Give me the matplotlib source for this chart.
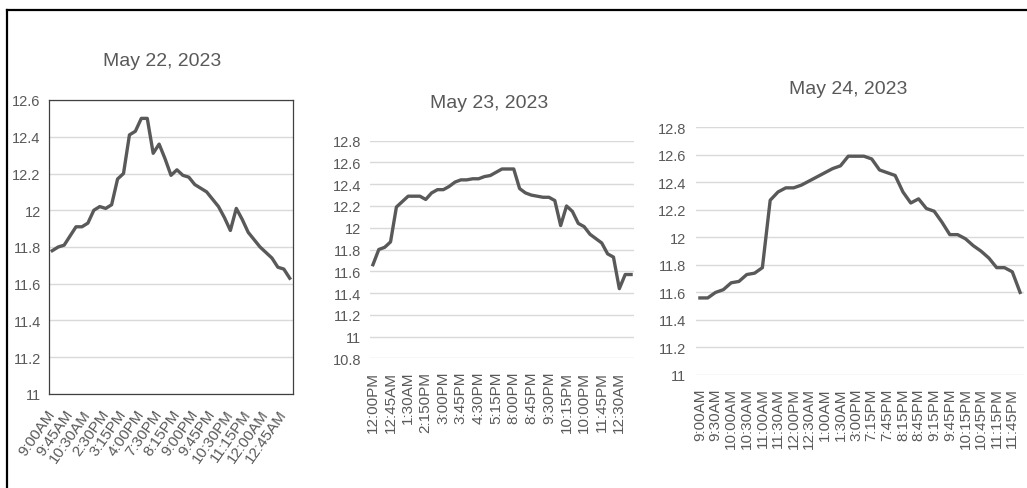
import numpy as np
import matplotlib

matplotlib.use("agg")
import matplotlib.pyplot as plt
from matplotlib.lines import Line2D

plt.rcParams["font.family"] = ["Liberation Sans", "DejaVu Sans"]

# May 22 - 15 min readings, label every 3rd point
may22_vals = [11.78, 11.80, 11.81, 11.86, 11.91, 11.91, 11.93, 12.00, 12.02, 12.01,
              12.03, 12.17, 12.20, 12.41, 12.43, 12.50, 12.50, 12.31, 12.36, 12.28,
              12.19, 12.22, 12.19, 12.18, 12.14, 12.12, 12.10, 12.06, 12.02, 11.96,
              11.89, 12.01, 11.95, 11.88, 11.84, 11.80, 11.77, 11.74, 11.69, 11.68,
              11.63]
may22_labels = ["9:00AM", "9:45AM", "10:30AM", "2:30PM", "3:15PM", "4:00PM", "7:30PM",
                "8:15PM", "9:00PM", "9:45PM", "10:30PM", "11:15PM", "12:00AM", "12:45AM"]

# May 23
may23_vals = [11.66, 11.80, 11.82, 11.87, 12.19, 12.24, 12.29, 12.29, 12.29, 12.26,
              12.32, 12.35, 12.35, 12.38, 12.42, 12.44, 12.44, 12.45, 12.45, 12.47,
              12.48, 12.51, 12.54, 12.54, 12.54, 12.36, 12.32, 12.30, 12.29, 12.28,
              12.28, 12.25, 12.02, 12.20, 12.15, 12.04, 12.01, 11.94, 11.90, 11.86,
              11.76, 11.73, 11.44, 11.57, 11.57]
may23_labels = ["12:00PM", "12:45AM", "1:30AM", "2:150PM", "3:00PM", "3:45PM", "4:30PM",
                "5:15PM", "8:00PM", "8:45PM", "9:30PM", "10:15PM", "10:00PM", "11:45PM",
                "12:30AM"]

# May 24 - label every 2nd point
may24_vals = [11.56, 11.56, 11.60, 11.62, 11.67, 11.68, 11.73, 11.74, 11.78, 12.27,
              12.33, 12.36, 12.36, 12.38, 12.41, 12.44, 12.47, 12.50, 12.52, 12.59,
              12.59, 12.59, 12.57, 12.49, 12.47, 12.45, 12.33, 12.25, 12.28, 12.21,
              12.19, 12.11, 12.02, 12.02, 11.99, 11.94, 11.90, 11.85, 11.78, 11.78,
              11.75, 11.60]
may24_labels = ["9:00AM", "9:30AM", "10:00AM", "10:30AM", "11:00AM", "11:30AM", "12:00PM",
                "12:30AM", "1:00AM", "1:30AM", "3:00PM", "7:15PM", "7:45PM", "8:15PM",
                "8:45PM", "9:15PM", "9:45PM", "10:15PM", "10:45PM", "11:15PM", "11:45PM"]

LINE = "#595959"
GRID = "#d9d9d9"
TXT = "#595959"

W, H = 1027, 489
fig = plt.figure(figsize=(W / 100, H / 100), dpi=100)
fig.patch.set_facecolor("white")


def px_axes(x0, y0, x1, y1):
    # pixel box (top-left origin) -> figure axes
    return fig.add_axes([x0 / W, 1 - y1 / H, (x1 - x0) / W, (y1 - y0) / H])


def draw_chart(ax, vals, labels, step, ymin, ymax, title, title_xy, rot, frame, ypad):
    n = len(vals)
    x = np.arange(n)
    ax.plot(x, vals, color=LINE, lw=2.4, solid_joinstyle="round", zorder=3)
    ax.set_xlim(-0.5, n - 0.5)
    ax.set_ylim(ymin, ymax)
    yt = np.round(np.arange(ymin, ymax + 0.001, 0.2), 1)
    ax.set_yticks(yt)
    ax.set_yticklabels([f"{v:g}" for v in yt], fontsize=10.5, color=TXT)
    ax.grid(axis="y", color=GRID, lw=1.0)
    ax.set_axisbelow(True)
    ax.tick_params(axis="both", length=0)
    ax.tick_params(axis="y", pad=ypad)
    ax.set_xticks(np.arange(0, n, step)[: len(labels)])
    if rot:
        ax.set_xticklabels(labels, rotation=rot, ha="right", va="center",
                           rotation_mode="anchor", fontsize=11, color=TXT)
        ax.tick_params(axis="x", pad=12)
    else:
        ax.set_xticklabels(labels, rotation=90, fontsize=11, color=TXT)
        ax.tick_params(axis="x", pad=9)
    for s in ax.spines.values():
        s.set_visible(frame)
        s.set_color("#404040")
        s.set_linewidth(0.9)
    fig.text(title_xy[0] / W, 1 - title_xy[1] / H, title, ha="center", va="center",
             fontsize=14, color=TXT)


ax1 = px_axes(49.3, 101, 292.7, 395)
draw_chart(ax1, may22_vals, may22_labels, 3, 11.0, 12.6, "May 22, 2023", (162, 62), 55, True, 6.2)

ax2 = px_axes(370, 141.7, 634, 359.3)
draw_chart(ax2, may23_vals, may23_labels, 3, 10.8, 12.8, "May 23, 2023", (489, 103), 0, False, 6.5)

ax3 = px_axes(696, 128.3, 1024, 376)
draw_chart(ax3, may24_vals, may24_labels, 2, 11.0, 12.8, "May 24, 2023", (848, 90), 0, False, 7)

# outer frame (top and left edges visible)
fig.add_artist(Line2D([6.5 / W, 6.5 / W], [0, 1 - 10.5 / H], transform=fig.transFigure,
                      color="black", lw=1.6))
fig.add_artist(Line2D([6.5 / W, 1], [1 - 10.5 / H, 1 - 10.5 / H], transform=fig.transFigure,
                      color="black", lw=1.6))

fig.savefig("out.png", dpi=100)
